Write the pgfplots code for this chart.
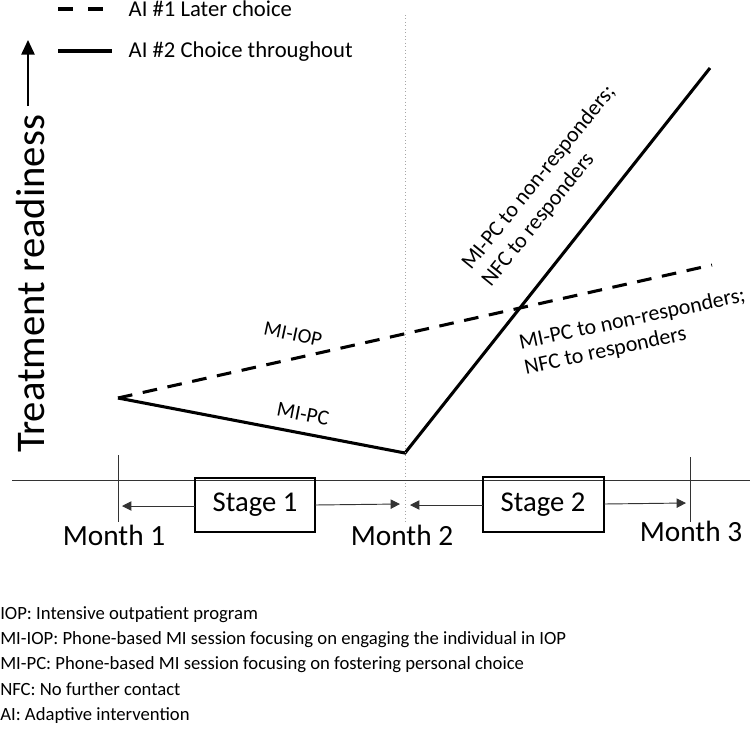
\documentclass[border=0pt]{standalone}
\usepackage{pgfplots}
\pgfplotsset{compat=1.18}
\usepackage{fontspec}
\setmainfont{Carlito}
\usetikzlibrary{arrows.meta}
\begin{document}
\begin{tikzpicture}
\begin{axis}[
  width=562.5pt, height=549.75pt, scale only axis,
  xmin=0, xmax=750, ymin=0, ymax=733, y dir=reverse,
  hide axis, clip=false,
]
% data lines
\addplot[black, line width=2.3pt, dash pattern=on 11pt off 8pt] coordinates {(118,398) (712,265)};
\addplot[black, line width=2.3pt] coordinates {(118,398) (405,453) (710,68)};
% vertical dotted line at Month 2
\draw[gray!70, line width=0.6pt, dotted] (axis cs:405,15) -- (axis cs:405,522);
% horizontal axis
\draw[black!80, line width=0.7pt] (axis cs:12,480) -- (axis cs:750,480);
% tick lines
\draw[black!80, line width=0.7pt] (axis cs:118,455) -- (axis cs:118,522);
\draw[black!80, line width=0.7pt] (axis cs:690,457) -- (axis cs:690,522);
% stage boxes
\draw[black, line width=1.2pt] (axis cs:195,478) rectangle (axis cs:315,532);
\draw[black, line width=1.2pt] (axis cs:483,477) rectangle (axis cs:604,532);
\node[font=\fontsize{21.5}{24}\selectfont] at (axis cs:255,505) {Stage 1};
\node[font=\fontsize{21.5}{24}\selectfont] at (axis cs:543,505) {Stage 2};
% stage arrows
\draw[-{Triangle[length=7pt,width=7pt]}, black!80, line width=0.7pt] (axis cs:195,506) -- (axis cs:122,506);
\draw[-{Triangle[length=7pt,width=7pt]}, black!80, line width=0.7pt] (axis cs:315,505) -- (axis cs:400,504);
\draw[-{Triangle[length=7pt,width=7pt]}, black!80, line width=0.7pt] (axis cs:483,505) -- (axis cs:410,505);
\draw[-{Triangle[length=7pt,width=7pt]}, black!80, line width=0.7pt] (axis cs:604,504) -- (axis cs:686,503);
% month labels
\node[font=\fontsize{22}{24}\selectfont] at (axis cs:114,535) {Month 1};
\node[font=\fontsize{22}{24}\selectfont] at (axis cs:402,535) {Month 2};
\node[font=\fontsize{22}{24}\selectfont] at (axis cs:691,531) {Month 3};
% y label and arrow
\node[rotate=90, font=\fontsize{30.5}{32}\selectfont] at (axis cs:31,284) {Treatment readiness};
\draw[-{Triangle[length=11pt,width=10pt]}, black, line width=1.3pt] (axis cs:28,106) -- (axis cs:28,40);
% legend
\draw[black, line width=2.3pt] (axis cs:58,9) -- (axis cs:73,9);
\draw[black, line width=2.3pt] (axis cs:88,9) -- (axis cs:103,9);
\node[anchor=west, font=\fontsize{17}{19}\selectfont] at (axis cs:124,9) {AI \#1 Later choice};
\draw[black, line width=2.3pt] (axis cs:58,51) -- (axis cs:112,51);
\node[anchor=west, font=\fontsize{17}{19}\selectfont] at (axis cs:124,52) {AI \#2 Choice throughout};
% line labels
\node[rotate=-12, font=\fontsize{15.5}{18}\selectfont] at (axis cs:293,334) {MI-IOP};
\node[rotate=-11, font=\fontsize{16}{18}\selectfont] at (axis cs:303,414) {MI-PC};
\node[rotate=51, font=\fontsize{16.5}{19.5}\selectfont, align=left] at (axis cs:549,186) {MI-PC to non-responders;\\NFC to responders};
\node[rotate=12, font=\fontsize{16.5}{19}\selectfont, align=left] at (axis cs:635,332) {MI-PC to non-responders;\\NFC to responders};
% footnotes
\node[anchor=west, font=\fontsize{14}{19}\selectfont, align=left, inner sep=0pt] at (axis cs:0,665) {IOP: Intensive outpatient program\\MI-IOP: Phone-based MI session focusing on engaging the individual in IOP\\MI-PC: Phone-based MI session focusing on fostering personal choice\\NFC: No further contact\\AI: Adaptive intervention};
\end{axis}
\pgfresetboundingbox
\path[use as bounding box] (current axis.south west) rectangle (current axis.north east);
\end{tikzpicture}
\end{document}
